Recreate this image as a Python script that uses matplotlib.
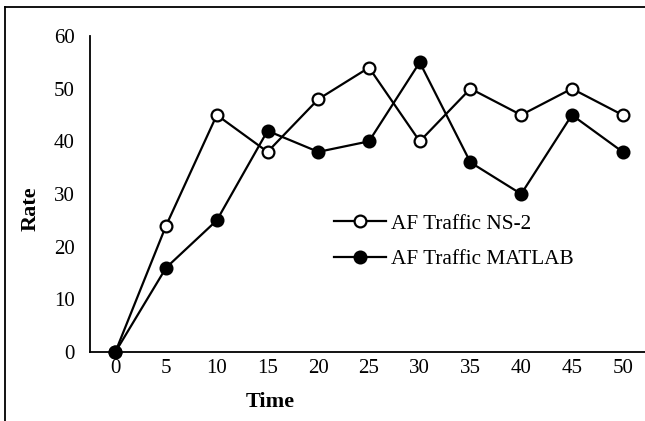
import matplotlib
matplotlib.use("Agg")
import matplotlib.pyplot as plt
from matplotlib.lines import Line2D

time = [0, 5, 10, 15, 20, 25, 30, 35, 40, 45, 50]
ns2 = [0, 24, 45, 38, 48, 54, 40, 50, 45, 50, 45]
matlab = [0, 16, 25, 42, 38, 40, 55, 36, 30, 45, 38]
yticks = [0, 10, 20, 30, 40, 50, 60]

plt.rcParams['font.family'] = ['Liberation Serif', 'DejaVu Serif']
W, H = 645, 421
fig = plt.figure(figsize=(W/100, H/100), dpi=100)
ax = fig.add_axes([90/W, 1-352/H, 558/W, 316/H])

ax.plot(time, ns2, color='black', lw=1.6, marker='o', ms=8.5, mfc='white',
        mec='black', mew=1.6, label='AF Traffic NS-2', clip_on=False, zorder=3)
ax.plot(time, matlab, color='black', lw=1.6, marker='o', ms=8.5, mfc='black',
        mec='black', mew=1.6, label='AF Traffic MATLAB', clip_on=False, zorder=3)

ax.set_xlim(-2.5, 52.5)
ax.set_ylim(0, 60)
ax.set_xticks(time)
ax.set_yticks(yticks)
ax.tick_params(length=0, labelsize=15)
ax.tick_params(axis='y', pad=11)
ax.tick_params(axis='x', pad=5)
for s in ['top', 'right']:
    ax.spines[s].set_visible(False)
for s in ['left', 'bottom']:
    ax.spines[s].set_linewidth(1.3)

ax.set_xlabel('Time', fontsize=16, fontweight='bold')
ax.xaxis.set_label_coords((270-90)/558, (352-392)/316)
ax.set_ylabel('Rate', fontsize=16, fontweight='bold')
ax.yaxis.set_label_coords((41-90)/558, (352-209)/316)

ax.legend(loc='upper left', bbox_to_anchor=(334/W, 1-214/H), bbox_transform=fig.transFigure,
          frameon=False, fontsize=15.3, handlelength=2.45, handletextpad=0.25,
          labelspacing=0.72, borderpad=0, borderaxespad=0)

fig.add_artist(Line2D([5/W, 5/W], [0, 1-7/H], transform=fig.transFigure, color='black', lw=1.3))
fig.add_artist(Line2D([5/W, 1], [1-7/H, 1-7/H], transform=fig.transFigure, color='black', lw=1.3))

fig.savefig('out.png', dpi=100)
